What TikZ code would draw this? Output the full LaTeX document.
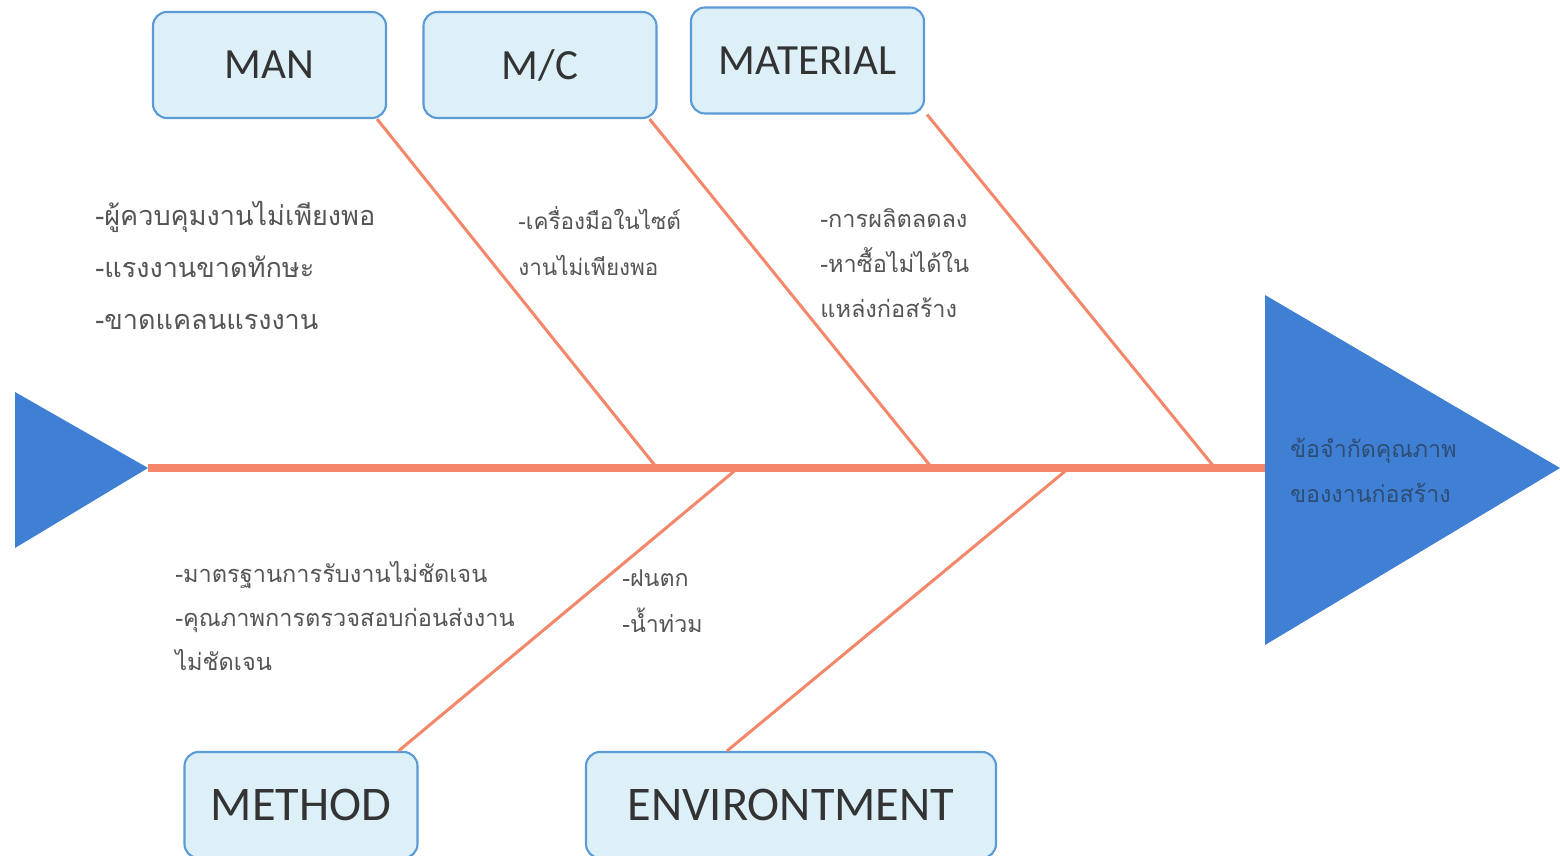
\documentclass[tikz,border=0pt]{standalone}
\usepackage{fontspec}
\setmainfont{Carlito}
\newfontfamily\thaifont[Script=Thai]{Loma}
\definecolor{boxfill}{HTML}{DDF0F8}
\definecolor{boxline}{HTML}{5B9BD5}
\definecolor{bone}{HTML}{F4876A}
\definecolor{fishblue}{HTML}{3F80D4}
\definecolor{labeltext}{HTML}{333333}
\definecolor{causetext}{HTML}{555555}
\definecolor{headtext}{HTML}{2F4C75}
\tikzset{
  catbox/.style={draw=boxline, fill=boxfill, line width=1.2pt, rounded corners=2.8mm,
    minimum width=46.6mm, minimum height=21.2mm, text=labeltext,
    font=\fontsize{24.5}{30}\selectfont},
  lowbox/.style={catbox, font=\fontsize{27.5}{32}\selectfont},
  bonestyle/.style={draw=bone, line width=1.7pt},
  cause/.style={anchor=west, align=left, text=causetext, inner sep=0pt},
  bigcause/.style={cause, font=\thaifont\fontsize{15.4}{29.6}\selectfont},
  smallcause/.style={cause, font=\thaifont\fontsize{13.2}{25.6}\selectfont}
}
\begin{document}
\begin{tikzpicture}[x=0.2mm, y=-0.2mm]
    \clip (0,0) rectangle (1560,856);
    \fill[white] (0,0) rectangle (1560,856);

    \fill[fishblue] (15,392) -- (148,468) -- (15,548) -- cycle;
    \fill[fishblue] (1265,295) -- (1560,468) -- (1265,645) -- cycle;
    \coordinate (tail) at (148,468);
    \coordinate (head) at (1265,468);
    \draw[bonestyle, line width=4pt] (tail) -- (head);

    \coordinate (j1) at (657,468);
    \coordinate (j2) at (932,468);
    \coordinate (j3) at (1215,468);
    \coordinate (j4) at (738,468);
    \coordinate (j5) at (1069,468);

    \node[catbox] (man) at (269.5,65) {MAN};
    \node[catbox] (mc) at (540,65) {M/C};
    \node[catbox] (material) at (807.5,60.5) {MATERIAL};
    \node[lowbox] (method) at (301,805) {METHOD};
    \node[lowbox, minimum width=82mm] (env) at (791,805) {ENVIRONTMENT};

    \draw[bonestyle] ([xshift=-2mm]man.south east) -- (j1);
    \draw[bonestyle] ([xshift=-1.6mm]mc.south east) -- (j2);
    \draw[bonestyle] ([xshift=0.4mm]material.south east) -- (j3);
    \draw[bonestyle] ([xshift=-4mm]method.north east) -- (j4);
    \draw[bonestyle] ([xshift=-12.8mm]env.north) -- (j5);

    \node[bigcause] (mantext) at (95,265) {-ผู้ควบคุมงานไม่เพียงพอ\\-แรงงานขาดทักษะ\\-ขาดแคลนแรงงาน};
    \node[smallcause, font=\thaifont\fontsize{12.8}{26.2}\selectfont] (mctext) at (518,241) {-เครื่องมือในไซต์\\งานไม่เพียงพอ};
    \node[smallcause, font=\thaifont\fontsize{13.4}{25.6}\selectfont] (mattext) at (820,263) {-การผลิตลดลง\\-หาซื้อไม่ได้ใน\\แหล่งก่อสร้าง};
    \node[smallcause, font=\thaifont\fontsize{13.4}{25.3}\selectfont] (methodtext) at (175,616) {-มาตรฐานการรับงานไม่ชัดเจน\\-คุณภาพการตรวจสอบก่อนส่งงาน\\ไม่ชัดเจน};
    \node[smallcause, font=\thaifont\fontsize{13.2}{26.2}\selectfont] (envtext) at (622,601) {-ฝนตก\\-น้ำท่วม};
    \node[smallcause, text=headtext] (effect) at (1290,470) {ข้อจำกัดคุณภาพ\\ของงานก่อสร้าง};
\end{tikzpicture}
\end{document}
